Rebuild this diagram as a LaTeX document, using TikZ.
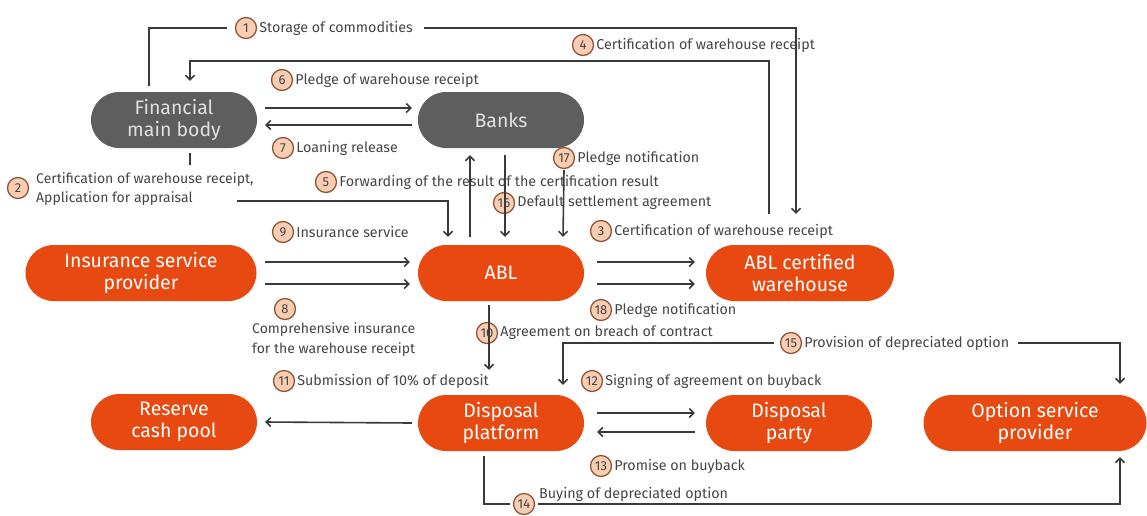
\documentclass[tikz,border=0pt]{standalone}
\usepackage{fontspec}
\setmainfont{Fira Sans}
\usetikzlibrary{arrows.meta}
\definecolor{orangefill}{HTML}{E84910}
\definecolor{grayfill}{HTML}{5E5E5E}
\definecolor{numfill}{HTML}{F8CDB2}
\definecolor{numdraw}{HTML}{8E5638}
\definecolor{txtgray}{HTML}{454545}
\definecolor{linegray}{HTML}{3A3A3A}
\tikzset{
  pill/.style={rectangle, rounded corners=28pt, minimum width=166pt, minimum height=56pt,
    inner sep=0pt, align=center, font=\fontsize{19.5}{22}\selectfont},
  orangepill/.style={pill, fill=orangefill, text=white},
  graypill/.style={pill, fill=grayfill, text=white!88!black},
  num/.style={circle, draw=numdraw, line width=1.3pt, fill=numfill, minimum size=21pt,
    inner sep=0pt, text=txtgray, font=\fontsize{13}{13}\selectfont},
  lbl/.style={anchor=west, inner sep=1pt, text=txtgray, align=left,
    font=\fontsize{14.3}{19}\selectfont},
  conn/.style={draw=linegray, line width=1.6pt},
  arr/.style={conn, -{Straight Barb[length=4.5pt,width=9pt,line width=1.5pt]}},
}
\begin{document}
\begin{tikzpicture}[x=1pt,y=-1pt]
\useasboundingbox (0,0) rectangle (1147,515);

% actors
\node[graypill]   (fin)  at (174,120) {Financial\\main body};
\node[graypill]   (bank) at (501,120) {Banks};
\node[orangepill] (isp)  at (141,273) [minimum width=231pt] {Insurance service\\provider};
\node[orangepill] (abl)  at (501,273) {ABL};
\node[orangepill] (wh)   at (800,273) [minimum width=188pt] {ABL certified\\warehouse};
\node[orangepill] (rcp)  at (174,422) {Reserve\\cash pool};
\node[orangepill] (dp)   at (501,423) {Disposal\\platform};
\node[orangepill] (dpy)  at (789,423) {Disposal\\party};
\node[orangepill] (osp)  at (1035,423) [minimum width=223pt] {Option service\\provider};

% numbered step labels
\node[num] (n1) at (246,28) {1};
\node[lbl] (t1) at ([xshift=1pt]n1.east) {Storage of commodities};
\node[num] (n4) at (583,45) {4};
\node[lbl] (t4) at ([xshift=1pt]n4.east) {Certification of warehouse receipt};
\node[num] (n6) at (282,80) {6};
\node[lbl] (t6) at ([xshift=1pt]n6.east) {Pledge of warehouse receipt};
\node[num] (n7) at (283,148) {7};
\node[lbl] (t7) at ([xshift=1pt]n7.east) {Loaning release};
\node[num] (n2) at (18,188) {2};
\node[lbl, font=\fontsize{14}{19}\selectfont] (t2) at (35,189) {Certification of warehouse receipt,\\Application for appraisal};
\node[num] (n5) at (326,182) {5};
\node[lbl] (t5) at ([xshift=1pt]n5.east) {Forwarding of the result of the certification result};
\node[num] (n17) at (564,158) {17};
\node[lbl] (t17) at ([xshift=1pt]n17.east) {Pledge notification};
\node[num] (n16) at (504,203) {16};
\node[lbl] (t16) at ([xshift=1pt]n16.east) {Default settlement agreement};
\node[num] (n9) at (283,232) {9};
\node[lbl] (t9) at ([xshift=1pt]n9.east) {Insurance service};
\node[num] (n3) at (601,231) {3};
\node[lbl] (t3) at ([xshift=1pt]n3.east) {Certification of warehouse receipt};
\node[num] (n8) at (285,309) {8};
\node[lbl, anchor=north west, font=\fontsize{14}{20}\selectfont] (t8) at (251,321) {Comprehensive insurance\\for the warehouse receipt};
\node[num] (n18) at (601,310) {18};
\node[lbl] (t18) at ([xshift=1pt]n18.east) {Pledge notification};
\node[num] (n10) at (487,333) {10};
\node[lbl] (t10) at ([xshift=1pt]n10.east) {Agreement on breach of contract};
\node[num] (n15) at (791,343) {15};
\node[lbl] (t15) at ([xshift=1pt]n15.east) {Provision of depreciated option};
\node[num] (n11) at (284,381) {11};
\node[lbl] (t11) at ([xshift=1pt]n11.east) {Submission of 10\% of deposit};
\node[num] (n12) at (592,381) {12};
\node[lbl] (t12) at ([xshift=1pt]n12.east) {Signing of agreement on buyback};
\node[num] (n13) at (601,466) {13};
\node[lbl] (t13) at ([xshift=1pt]n13.east) {Promise on buyback};
\node[num] (n14) at (524,504) {14};
\node[lbl] (t14) at (538,494) {Buying of depreciated option};

% (1) storage of commodities
\draw[conn] ([xshift=-25pt,yshift=6pt]fin.north) |- ([xshift=-8pt]n1.west);
\draw[arr] ([xshift=10pt]t1.east) -| ([xshift=-4pt,yshift=31pt]wh.north);
% (4) certification back to the financial main body
\draw[arr] ([xshift=-31pt,yshift=31pt]wh.north) |- ([xshift=16pt,yshift=31pt]fin.north)
  -- ([xshift=16pt,yshift=11pt]fin.north);
% (6) and (7)
\draw[arr] ([xshift=8pt,yshift=12pt]fin.east) -- ([xshift=-6pt,yshift=12pt]bank.west);
\draw[arr] ([xshift=-6pt,yshift=-5pt]bank.west) -- ([xshift=8pt,yshift=-5pt]fin.east);
% (2) application to ABL
\coordinate (c2) at ([xshift=16pt,yshift=-17pt]fin.south);
\draw[conn] ([xshift=16pt,yshift=-5pt]fin.south) -- (c2);
\coordinate (c2b) at (237,201);
\draw[arr] (c2b) -| ([xshift=-53pt,yshift=8pt]abl.north);
% (5) forwarding to the banks
\draw[arr] ([xshift=-31pt,yshift=8pt]abl.north) -- ([xshift=-31pt,yshift=-7pt]bank.south);
% (16) default settlement agreement
\draw[arr] ([xshift=4pt,yshift=-7pt]bank.south) -- ([xshift=4pt,yshift=8pt]abl.north);
% (17) pledge notification
\draw[arr] ([yshift=-1pt]n17.south) -- ([xshift=62pt,yshift=8pt]abl.north);
% (9) and (8)
\draw[arr] ([xshift=8pt,yshift=11pt]isp.east) -- ([xshift=-8pt,yshift=11pt]abl.west);
\draw[arr] ([xshift=8pt,yshift=-11pt]isp.east) -- ([xshift=-8pt,yshift=-11pt]abl.west);
% (3) and (18)
\draw[arr] ([xshift=13pt,yshift=11pt]abl.east) -- ([xshift=-11pt,yshift=11pt]wh.west);
\draw[arr] ([xshift=13pt,yshift=-11pt]abl.east) -- ([xshift=-11pt,yshift=-11pt]wh.west);
% (10) breach of contract
\draw[arr] ([xshift=-12pt,yshift=-4pt]abl.south) -- ([xshift=-12pt,yshift=25pt]dp.north);
% (11) deposit to the reserve pool
\draw[arr] ([xshift=-6pt]dp.west) -- ([xshift=8pt]rcp.east);
% (12) and (13)
\draw[arr] ([xshift=13pt,yshift=10pt]dp.east) -- ([xshift=-11pt,yshift=10pt]dpy.west);
\draw[arr] ([xshift=-11pt,yshift=-9pt]dpy.west) -- ([xshift=13pt,yshift=-9pt]dp.east);
% (15) depreciated option provision
\draw[arr] ([xshift=-6pt]n15.west) -| ([xshift=62pt,yshift=10pt]dp.north);
\draw[arr] ([xshift=8pt]t15.east) -| ([xshift=85pt,yshift=11pt]osp.north);
% (14) buying of depreciated option
\draw[conn] ([xshift=-17pt,yshift=-5pt]dp.south) |- ([xshift=-3pt]n14.west);
\draw[arr] ([xshift=3pt]n14.east) -| ([xshift=85pt,yshift=-6pt]osp.south);
\end{tikzpicture}
\end{document}
